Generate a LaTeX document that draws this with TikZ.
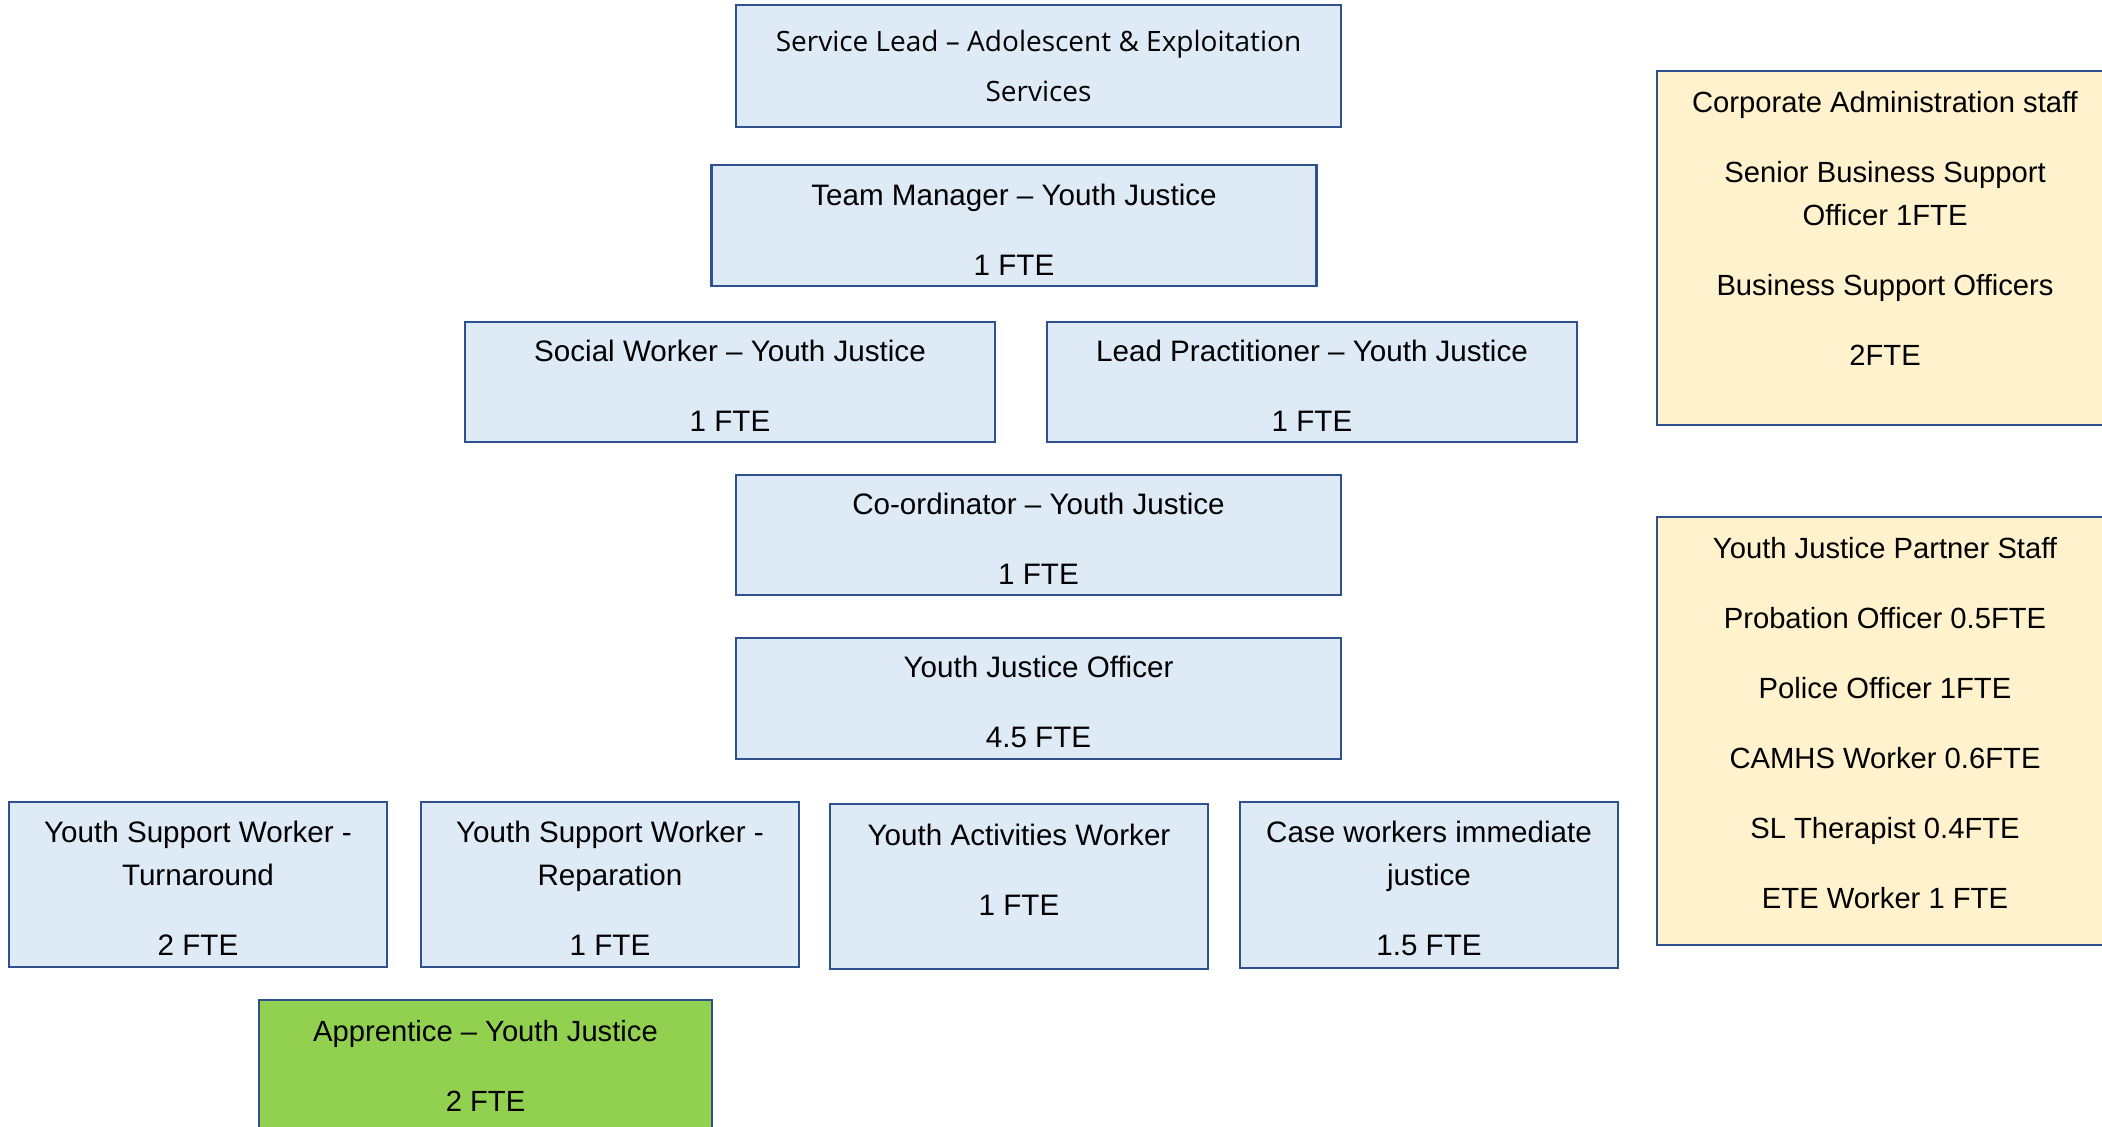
\documentclass[tikz,border=0pt]{standalone}
\usepackage{fontspec}
\setmainfont{Liberation Sans}
\newfontfamily\leadfont{Open Sans}
\usepackage{tikz}

\definecolor{boxblue}{HTML}{DEEBF7}
\definecolor{boxedge}{HTML}{2F528F}
\definecolor{boxyellow}{HTML}{FFF2CC}
\definecolor{boxgreen}{HTML}{92D050}

% first line set a little taller, so the text sits lower in the box
\newcommand\tallrow{\rule{0pt}{14.6pt}}

\begin{document}
\begin{tikzpicture}[x=0.5pt,y=-0.5pt,
  rolebox/.style={draw=boxedge,line width=1.1pt,align=center,inner sep=0pt,
    font=\fontsize{14.6pt}{21.5pt}\selectfont},
  bluebox/.style={rolebox,fill=boxblue,font=\fontsize{14.8pt}{21.5pt}\selectfont},
  yellowbox/.style={rolebox,fill=boxyellow,minimum width=228pt},
  greenbox/.style={rolebox,fill=boxgreen},
  widebox/.style={bluebox,minimum width=302.5pt,minimum height=60.5pt},
  pairbox/.style={bluebox,minimum width=265pt,minimum height=60pt},
  lowbox/.style={bluebox,minimum width=189pt,minimum height=82.5pt}]

\useasboundingbox (0,0) rectangle (2102,1126);

% main line
\node[bluebox,minimum width=302.5pt,minimum height=61pt,font=\leadfont\fontsize{14pt}{25pt}\selectfont] (lead) at (1038.5,66)
  {Service Lead – Adolescent \& Exploitation\\Services};
\node[widebox] (manager) at (1014,225.5) {\tallrow Team Manager – Youth Justice\\[13.5pt]1 FTE};
\node[pairbox] (social) at (730,382) {\tallrow Social Worker – Youth Justice\\[13.5pt]1 FTE};
\node[pairbox] (practitioner) at (1312,382) {\tallrow Lead Practitioner – Youth Justice\\[13.5pt]1 FTE};
\node[widebox,minimum height=60pt] (coord) at (1038.5,535) {\tallrow Co-ordinator – Youth Justice\\[13.5pt]1 FTE};
\node[widebox] (officer) at (1038.5,698.5) {\tallrow Youth Justice Officer\\[13.5pt]4.5 FTE};

% bottom row
\node[lowbox] (turnaround) at (198,884.5) {\tallrow Youth Support Worker -\\Turnaround\\[13.5pt]2 FTE};
\node[lowbox] (reparation) at (610,884.5) {\tallrow Youth Support Worker -\\Reparation\\[13.5pt]1 FTE};
\node[lowbox] (activities) at (1019,886.5) {Youth Activities Worker\\[13.5pt]1 FTE\\[-4.5pt]\mbox{}};
\node[lowbox,minimum height=83pt] (caseworkers) at (1429,885) {\tallrow Case workers immediate\\justice\\[13.5pt]1.5 FTE};
\node[greenbox,minimum width=226.5pt,minimum height=66pt] (apprentice) at (485.5,1066)
  {Apprentice – Youth Justice\\[13.5pt]2 FTE};

% side boxes
\node[yellowbox,minimum height=177pt] (corporate) at (1885,248)
  {Corporate Administration staff\\[13.5pt]Senior Business Support\\Officer 1FTE\\[13.5pt]
   Business Support Officers\\[13.5pt]2FTE\\[-1.5pt]\mbox{}};
\node[yellowbox,minimum height=214pt] (partners) at (1885,731)
  {Youth Justice Partner Staff\\[13.5pt]Probation Officer 0.5FTE\\[13.5pt]Police Officer 1FTE\\[13.5pt]
   CAMHS Worker 0.6FTE\\[13.5pt]SL Therapist 0.4FTE\\[13.5pt]ETE Worker 1 FTE\\[-13pt]\mbox{}};

\end{tikzpicture}
\end{document}
